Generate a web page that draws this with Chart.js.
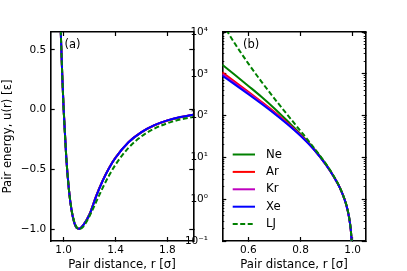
<!DOCTYPE html>
<html><head><meta charset="utf-8">
<script src="https://cdn.jsdelivr.net/npm/chart.js@4/dist/chart.umd.min.js"></script>
<style>
html,body{margin:0;padding:0;background:#fff;width:407px;height:271px;overflow:hidden}
canvas{position:absolute;top:0}
#ca{left:0}
#cb{left:180px}
</style></head><body>
<canvas id="ca" width="200" height="271"></canvas>
<canvas id="cb" width="227" height="271"></canvas>
<script>
// ---------- data ----------
const seriesNames = ['Ne', 'Ar', 'Kr', 'Xe', 'LJ'];

// panel (a): linear energy vs distance
const rA  = [0.96, 0.97, 0.98, 0.99, 1.00, 1.02, 1.04, 1.06, 1.08, 1.10, 1.12, 1.15, 1.20, 1.25, 1.30, 1.35, 1.40, 1.50, 1.60, 1.70, 1.80, 1.90, 2.00];
const neA = [1.40, 0.95, 0.573, 0.262, 0.0, -0.40, -0.664, -0.836, -0.938, -0.989, -0.997, -0.968, -0.874, -0.724, -0.595, -0.488, -0.402, -0.274, -0.19, -0.132, -0.092, -0.064, -0.044];
const arA = [1.40, 0.95, 0.572, 0.261, 0.0, -0.40, -0.665, -0.837, -0.939, -0.99, -0.997, -0.969, -0.876, -0.726, -0.597, -0.489, -0.402, -0.273, -0.189, -0.131, -0.091, -0.063, -0.043];
const krA = [1.40, 0.95, 0.571, 0.26, 0.0, -0.40, -0.665, -0.838, -0.94, -0.99, -0.997, -0.97, -0.877, -0.727, -0.598, -0.49, -0.403, -0.273, -0.188, -0.13, -0.09, -0.062, -0.042];
const xeA = [1.40, 0.95, 0.57, 0.26, 0.0, -0.40, -0.665, -0.838, -0.94, -0.99, -0.997, -0.97, -0.878, -0.728, -0.598, -0.49, -0.403, -0.273, -0.188, -0.130, -0.090, -0.062, -0.042];
const ljA = [1.418, 0.963, 0.582, 0.264, 0.0, -0.398, -0.663, -0.832, -0.932, -0.984, -1.0, -0.982, -0.891, -0.774, -0.657, -0.552, -0.461, -0.320, -0.224, -0.159, -0.114, -0.083, -0.062];

// panel (b): log energy vs distance (repulsive wall)
const rB  = [0.50, 0.55, 0.60, 0.65, 0.70, 0.75, 0.80, 0.85, 0.90, 0.93, 0.95, 0.97, 0.98, 0.99, 0.995, 0.998, 0.999];
const neB = [1650, 923, 513, 282, 148, 74, 36.3, 16.6, 6.55, 3.3, 1.94, 0.95, 0.572, 0.261, 0.125, 0.048, 0.024];
const arB = [1080, 638, 373, 215, 122, 66.4, 34.3, 16.0, 6.35, 3.27, 1.93, 0.946, 0.568, 0.259, 0.124, 0.048, 0.024];
const krB = [980, 585, 347, 203, 116, 64, 33.5, 15.9, 6.32, 3.26, 1.925, 0.945, 0.567, 0.258, 0.124, 0.048, 0.024];
const xeB = [900, 543, 325, 192, 111, 62, 32.7, 15.7, 6.3, 3.25, 1.92, 0.945, 0.566, 0.258, 0.124, 0.048, 0.024];
const ljB = [16128, 5077, 1752, 650, 255, 103.8, 43.0, 17.5, 6.64, 3.37, 1.96, 0.963, 0.582, 0.264, 0.126, 0.049, 0.024];

// tick values and labels
const xTicksA = [1.0, 1.4, 1.8];
const xTickLabelsA = ['1.0', '1.4', '1.8'];
const yTicksA = [-1.0, -0.5, 0.0, 0.5];
const yTickLabelsA = ['\u22121.0', '\u22120.5', '0.0', '0.5'];
const xTicksB = [0.6, 0.8, 1.0];
const xTickLabelsB = ['0.6', '0.8', '1.0'];
const yTicksB = [0.1, 1, 10, 100, 1000, 10000];
const yTickLabelsB = ['10\u207B\u00B9', '10\u2070', '10\u00B9', '10\u00B2', '10\u00B3', '10\u2074'];

// ---------- styles ----------
const FONT = 'DejaVu Sans';
Chart.defaults.font.family = FONT;
Chart.defaults.color = '#000';
const seriesStyle = [
  {color: '#008000', dash: [], order: 4},
  {color: '#ff0000', dash: [], order: 3},
  {color: '#bf00bf', dash: [], order: 2},
  {color: '#0000ff', dash: [], order: 1},
  {color: '#008000', dash: [5, 2.5], order: 0}
];
const TICK_FONT = {family: FONT, size: 10.5};
const LABEL_FONT = {family: FONT, size: 11.7};

function pts(r, v) { return r.map((x, i) => ({x: x, y: v[i]})); }
function makeDatasets(r, arrs) {
  return arrs.map((v, i) => ({
    label: seriesNames[i],
    data: pts(r, v),
    borderColor: seriesStyle[i].color,
    backgroundColor: seriesStyle[i].color,
    borderDash: seriesStyle[i].dash,
    borderWidth: 2,
    pointRadius: 0,
    cubicInterpolationMode: 'monotone',
    order: seriesStyle[i].order,
    clip: 0
  }));
}

function zeroPad(s) { s.paddingLeft = 0; s.paddingRight = 0; s.paddingTop = 0; s.paddingBottom = 0; }

function axis(o) {
  const horiz = o.position === 'top' || o.position === 'bottom';
  return {
    type: o.type || 'linear',
    position: o.position,
    min: o.min, max: o.max,
    weight: o.weight || 0,
    afterBuildTicks: s => { s.ticks = o.tickValues(s).map(v => ({value: v})); },
    afterFit: s => { if (horiz) s.height = o.size; else s.width = o.size; zeroPad(s); },
    ticks: {
      display: !!o.labels,
      callback: (v, i) => (o.labels ? o.labels[i] : ''),
      font: TICK_FONT, color: '#000',
      padding: o.pad || 0,
      autoSkip: false, maxRotation: 0, minRotation: 0
    },
    grid: {
      display: true, drawOnChartArea: false, drawTicks: true,
      tickLength: o.tl, tickWidth: o.tw || 1.2, tickColor: '#000'
    },
    border: {display: o.border !== false, color: '#000', width: 1.6},
    title: o.title ? {display: true, text: o.title, font: LABEL_FONT, color: '#000',
                      padding: o.titlePad} : {display: false}
  };
}

const panelLabel = {
  id: 'panelLabel',
  afterDraw(chart, args, opts) {
    const ctx = chart.ctx;
    ctx.save();
    ctx.font = '11.5px "' + FONT + '"';
    ctx.fillStyle = '#000';
    ctx.textAlign = 'left';
    ctx.textBaseline = 'middle';
    ctx.fillText(opts.text, opts.x, opts.y);
    ctx.restore();
  }
};

const lineLegend = {
  id: 'lineLegend',
  afterDatasetsDraw(chart, args, opts) {
    if (!opts.show) return;
    const ctx = chart.ctx;
    ctx.save();
    chart.data.datasets.forEach((ds, i) => {
      const y = opts.y0 + i * opts.dy;
      ctx.beginPath();
      ctx.strokeStyle = ds.borderColor;
      ctx.lineWidth = ds.borderWidth;
      ctx.setLineDash(ds.borderDash || []);
      ctx.moveTo(opts.x0, y);
      ctx.lineTo(opts.x1, y);
      ctx.stroke();
      ctx.setLineDash([]);
      ctx.font = '11.7px "' + FONT + '"';
      ctx.fillStyle = '#000';
      ctx.textAlign = 'left';
      ctx.textBaseline = 'middle';
      ctx.fillText(ds.label, opts.xt, y);
    });
    ctx.restore();
  }
};

const common = {
  responsive: false, animation: false, events: [],
  layout: {padding: 0}
};

// ---------- panel (a) ----------
new Chart(document.getElementById('ca'), {
  type: 'line',
  data: {datasets: makeDatasets(rA, [neA, arA, krA, xeA, ljA])},
  plugins: [panelLabel, lineLegend],
  options: Object.assign({}, common, {
    plugins: {legend: {display: false}, tooltip: {enabled: false},
      panelLabel: {text: '(a)', x: 64.5, y: 45},
      lineLegend: {show: false}},
    scales: {
      x: axis({position: 'bottom', min: 0.9, max: 2.0, tickValues: () => xTicksA, labels: xTickLabelsA,
               pad: 6.5, size: 30, tl: -4, title: 'Pair distance, r [\u03C3]', titlePad: {top: 0, bottom: -1}}),
      x2: axis({position: 'top', min: 0.9, max: 2.0, tickValues: () => xTicksA, size: 32, tl: -4}),
      y: axis({position: 'left', min: -1.1, max: 0.65, tickValues: () => yTicksA, labels: yTickLabelsA,
               pad: 8.4, size: 50.7, tl: -4, title: 'Pair energy, u(r) [\u03B5]', titlePad: {top: 1, bottom: 0}}),
      y2: axis({position: 'right', min: -1.1, max: 0.65, tickValues: () => yTicksA, size: 6.7, tl: -4})
    }
  })
});

// ---------- panel (b) ----------
function minorLog() {
  const out = [];
  for (let e = -1; e <= 3; e++) for (let k = 2; k <= 9; k++) out.push(k * Math.pow(10, e));
  return out;
}
new Chart(document.getElementById('cb'), {
  type: 'line',
  data: {datasets: makeDatasets(rB, [neB, arB, krB, xeB, ljB])},
  plugins: [panelLabel, lineLegend],
  options: Object.assign({}, common, {
    plugins: {legend: {display: false}, tooltip: {enabled: false},
      panelLabel: {text: '(b)', x: 63, y: 45},
      lineLegend: {show: true, x0: 52.7, x1: 75, xt: 86, y0: 154.5, dy: 17.4}},
    scales: {
      x: axis({position: 'bottom', min: 0.5, max: 1.05, tickValues: () => xTicksB, labels: xTickLabelsB,
               pad: 6.5, size: 30, tl: -4, title: 'Pair distance, r [\u03C3]', titlePad: {top: 0, bottom: -1}}),
      x2: axis({position: 'top', min: 0.5, max: 1.05, tickValues: () => xTicksB, size: 32, tl: -4}),
      y: axis({type: 'logarithmic', position: 'left', weight: 1, min: 0.1, max: 10000, tickValues: () => yTicksB,
               labels: yTickLabelsB, pad: 18.3, size: 42.3, tl: -4}),
      yLm: axis({type: 'logarithmic', position: 'left', weight: 0, min: 0.1, max: 10000, tickValues: minorLog,
               size: 0, tl: -2, tw: 0.9, border: false}),
      yR: axis({type: 'logarithmic', position: 'right', weight: 1, min: 0.1, max: 10000, tickValues: () => yTicksB,
               size: 41.3, tl: -4}),
      yRm: axis({type: 'logarithmic', position: 'right', weight: 0, min: 0.1, max: 10000, tickValues: minorLog,
               size: 0, tl: -2, tw: 0.9, border: false})
    }
  })
});
</script>
</body></html>
